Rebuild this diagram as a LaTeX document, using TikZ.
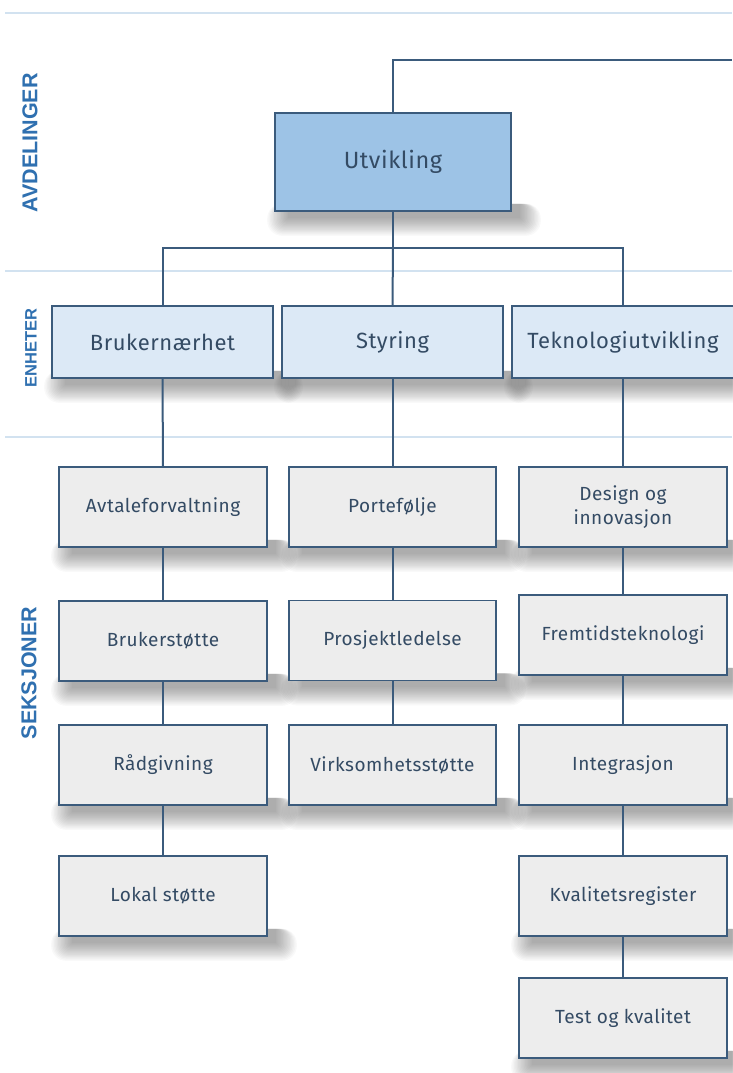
\documentclass[tikz,border=0pt]{standalone}
\usepackage{fontspec}
\setmainfont{Fira Sans}[LetterSpace=2.5]
\newfontfamily\tierfont{Liberation Sans}
\usetikzlibrary{calc}

\definecolor{edge}{HTML}{3B5B7C}
\definecolor{ink}{HTML}{344B64}
\definecolor{deptfill}{HTML}{9DC3E6}
\definecolor{unitfill}{HTML}{DCE9F6}
\definecolor{secfill}{HTML}{EDEDED}
\definecolor{rulecol}{HTML}{D2E2F0}
\definecolor{tier}{HTML}{2F70B0}
\definecolor{shadecol}{HTML}{404040}

\pgfdeclarelayer{backlayer}
\pgfdeclarelayer{shadelayer}
\pgfsetlayers{backlayer,shadelayer,main}

% soft drop shadow under a named box, built from stacked translucent rectangles
\newcommand\softshadow[1]{%
  \foreach \k in {0,...,15}{%
    \fill[shadecol, opacity=0.03, rounded corners=\k pt]
      ($(#1.south west)+(14-\k*1.4, -8)$) rectangle ($(#1.south east)+(8+\k*1.4, 6+\k*1.2)$);
  }}

\begin{document}
\begin{tikzpicture}[x=1pt,y=-1pt,
  box/.style={draw=edge, line width=1.6pt, text=ink, inner sep=0pt, align=center},
  dept/.style={box, fill=deptfill, minimum width=236pt, minimum height=98pt,
    font=\fontsize{23.5}{28}\selectfont},
  unit/.style={box, fill=unitfill, minimum width=221pt, minimum height=72pt,
    font=\fontsize{22}{26}\selectfont},
  sect/.style={box, fill=secfill, minimum width=208pt, minimum height=80pt,
    font=\fontsize{19}{24}\selectfont},
  link/.style={draw=edge, line width=2pt},
  tierlabel/.style={rotate=90, text=tier, inner sep=0pt,
    font=\tierfont\bfseries\fontsize{21.5}{21.5}\selectfont},
  rule/.style={draw=rulecol, line width=2pt},
]
\begin{pgfonlayer}{backlayer}
\fill[white] (0,0) rectangle (732,1073);
% tier separators
\draw[rule] (5,13) -- (732,13);
\draw[rule] (5,271) -- (732,271);
\draw[rule] (5,437) -- (732,437);
\end{pgfonlayer}
\useasboundingbox (0,0) rectangle (732,1073);

% tier labels
\node[tierlabel] (tAvd) at (30,143) {AVDELINGER};
\node[tierlabel, font=\tierfont\bfseries\fontsize{16.5}{16.5}\selectfont] (tEnh) at (31,348) {ENHETER};
\node[tierlabel] (tSek) at (29,673) {SEKSJONER};

% department
\node[dept] (utv) at (393,162) {Utvikling};

% units
\node[unit] (bru) at (162.5,342) {Brukernærhet};
\node[unit] (sty) at (392.5,342) {Styring};
\node[unit, minimum width=222pt] (tek) at (623,342) {Teknologiutvikling};

% sections, column 1
\node[sect] (avt) at (163,507) {Avtaleforvaltning};
\node[sect] (bst) at (163,641) {Brukerstøtte};
\node[sect] (rad) at (163,765) {Rådgivning};
\node[sect] (lok) at (163,896) {Lokal støtte};

% sections, column 2
\node[sect, minimum width=207pt] (por) at (392.5,507) {Portefølje};
\node[sect, minimum width=207pt] (pro) at (392.5,640.5) {Prosjektledelse};
\node[sect, minimum width=207pt] (vir) at (392.5,765) {Virksomhetsstøtte};

% sections, column 3
\node[sect] (des) at (623,507) {Design og\\innovasjon};
\node[sect] (fre) at (623,635) {Fremtidsteknologi};
\node[sect] (int) at (623,765) {Integrasjon};
\node[sect] (kva) at (623,896) {Kvalitetsregister};
\node[sect] (tes) at (623,1018) {Test og kvalitet};

% shadows beneath every box
\begin{pgfonlayer}{shadelayer}
\foreach \b in {utv,bru,sty,tek,avt,bst,rad,lok,por,pro,vir,des,fre,int,kva,tes}{\softshadow{\b}}
\end{pgfonlayer}

% connectors
\coordinate (up) at (732,60);
\coordinate (bus) at (393,248);
\draw[link] (utv.north) |- (up);
\draw[link] (utv.south) -- (bus);
\draw[link] (bus) -| (bru.north);
\draw[link] (bus) -| (tek.north);
\draw[link] (bus) -- (sty.north);

\draw[link] (bru.south) -- (avt.north);
\draw[link] (avt.south) -- (bst.north);
\draw[link] (bst.south) -- (rad.north);
\draw[link] (rad.south) -- (lok.north);

\draw[link] (sty.south) -- (por.north);
\draw[link] (por.south) -- (pro.north);
\draw[link] (pro.south) -- (vir.north);

\draw[link] (tek.south) -- (des.north);
\draw[link] (des.south) -- (fre.north);
\draw[link] (fre.south) -- (int.north);
\draw[link] (int.south) -- (kva.north);
\draw[link] (kva.south) -- (tes.north);
\end{tikzpicture}
\end{document}
